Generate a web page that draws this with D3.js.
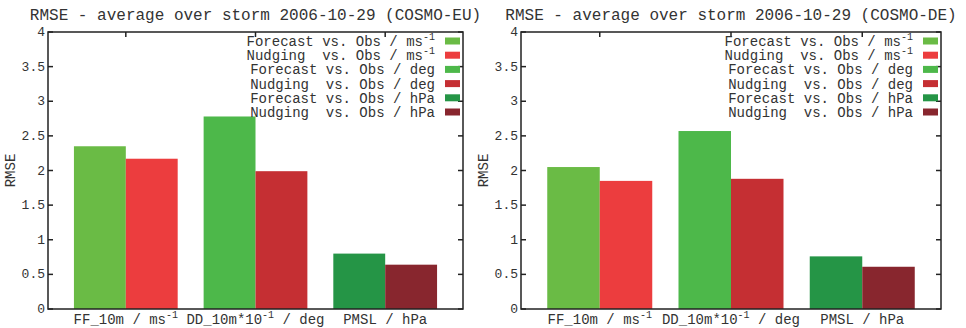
<!DOCTYPE html>
<html>
<head>
<meta charset="utf-8">
<title>RMSE</title>
<script src="https://cdn.jsdelivr.net/npm/d3@7"></script>
<style>
body { margin: 0; background: #fff; }
svg text { font-family: "Liberation Mono", "DejaVu Sans Mono", monospace; fill: #333; }
</style>
</head>
<body>
<div id="chart"></div>
<script>
// data
var categories = ["FF_10m", "DD_10m", "PMSL"];
var catLabels = [["FF_10m / ms", "-1", ""], ["DD_10m*10", "-1", " / deg"], ["PMSL / hPa", "", ""]];
var euForecast = [2.35, 2.78, 0.80];
var euNudging = [2.17, 1.99, 0.64];
var deForecast = [2.05, 2.57, 0.76];
var deNudging = [1.85, 1.88, 0.61];
var yTicks = [0, 0.5, 1, 1.5, 2, 2.5, 3, 3.5, 4];
var legendLabels = [
  ["Forecast vs. Obs / ms", "-1"],
  ["Nudging  vs. Obs / ms", "-1"],
  ["Forecast vs. Obs / deg", ""],
  ["Nudging  vs. Obs / deg", ""],
  ["Forecast vs. Obs / hPa", ""],
  ["Nudging  vs. Obs / hPa", ""]
];
var forecastColors = ["#6abb45", "#4db84a", "#259546"];
var nudgingColors = ["#ec3d3e", "#c52f33", "#88262e"];

var svg = d3.select("#chart").append("svg")
  .attr("width", 966).attr("height", 328);

function panel(left, right, title, forecast, nudging) {
  var top = 32, bottom = 309;
  var g = svg.append("g");

  var x = d3.scaleLinear().domain([-0.6, 2.6]).range([left, right]);
  var y = d3.scaleLinear().domain([0, 4]).range([bottom, top]);

  // bars
  categories.forEach(function(c, i) {
    g.append("rect")
      .attr("x", x(i - 0.4)).attr("width", x(i) - x(i - 0.4))
      .attr("y", y(forecast[i])).attr("height", y(0) - y(forecast[i]))
      .attr("fill", forecastColors[i]);
    g.append("rect")
      .attr("x", x(i)).attr("width", x(i + 0.4) - x(i))
      .attr("y", y(nudging[i])).attr("height", y(0) - y(nudging[i]))
      .attr("fill", nudgingColors[i]);
  });

  // y ticks left + mirror right
  g.append("g").selectAll("line.l").data(yTicks).enter().append("line")
    .attr("x1", left).attr("x2", left + 5)
    .attr("y1", function(d) { return y(d); }).attr("y2", function(d) { return y(d); })
    .attr("stroke", "#222").attr("stroke-width", 1.5);
  g.append("g").selectAll("line.r").data(yTicks).enter().append("line")
    .attr("x1", right - 5).attr("x2", right)
    .attr("y1", function(d) { return y(d); }).attr("y2", function(d) { return y(d); })
    .attr("stroke", "#222").attr("stroke-width", 1.5);
  g.append("g").selectAll("text").data(yTicks).enter().append("text")
    .attr("x", left - 3).attr("y", function(d) { return y(d) + 4; })
    .attr("text-anchor", "end").attr("font-size", 13)
    .text(function(d) { return d; });

  // x ticks on top (mirror)
  g.append("g").selectAll("line").data(categories).enter().append("line")
    .attr("x1", function(d, i) { return x(i); }).attr("x2", function(d, i) { return x(i); })
    .attr("y1", top).attr("y2", top + 5)
    .attr("stroke", "#222").attr("stroke-width", 1.5);

  // x labels
  catLabels.forEach(function(lab, i) {
    var t = g.append("text")
      .attr("x", x(i)).attr("y", 324)
      .attr("text-anchor", "middle").attr("font-size", 14)
      .attr("xml:space", "preserve");
    t.append("tspan").text(lab[0]);
    if (lab[1]) t.append("tspan").attr("dy", -6).attr("font-size", 10).text(lab[1]);
    if (lab[2]) t.append("tspan").attr("dy", 6).text(lab[2]);
  });

  // frame
  g.append("rect")
    .attr("x", left).attr("y", top)
    .attr("width", right - left).attr("height", bottom - top)
    .attr("fill", "none").attr("stroke", "#222").attr("stroke-width", 1.5);

  // title
  g.append("text")
    .attr("x", (left + right) / 2).attr("y", 20)
    .attr("text-anchor", "middle").attr("font-size", 16)
    .text(title);

  // y label
  g.append("text")
    .attr("transform", "translate(" + (left - 33) + "," + ((top + bottom) / 2) + ") rotate(-90)")
    .attr("text-anchor", "middle").attr("font-size", 14)
    .text("RMSE");

  // legend
  var legColors = [];
  categories.forEach(function(c, i) { legColors.push(forecastColors[i], nudgingColors[i]); });
  legendLabels.forEach(function(lab, i) {
    var cy = 41 + i * 14.2;
    var t = g.append("text")
      .attr("x", right - 28).attr("y", cy + 5)
      .attr("text-anchor", "end").attr("font-size", 14)
      .attr("xml:space", "preserve");
    t.append("tspan").text(lab[0]);
    if (lab[1]) t.append("tspan").attr("dy", -6).attr("font-size", 10).text(lab[1]);
    g.append("rect")
      .attr("x", right - 18).attr("y", cy - 3.5)
      .attr("width", 15).attr("height", 7)
      .attr("fill", legColors[i]);
  });
}

panel(48, 463, "RMSE - average over storm 2006-10-29 (COSMO-EU)", euForecast, euNudging);
panel(521, 941, "RMSE - average over storm 2006-10-29 (COSMO-DE)", deForecast, deNudging);
</script>
</body>
</html>
